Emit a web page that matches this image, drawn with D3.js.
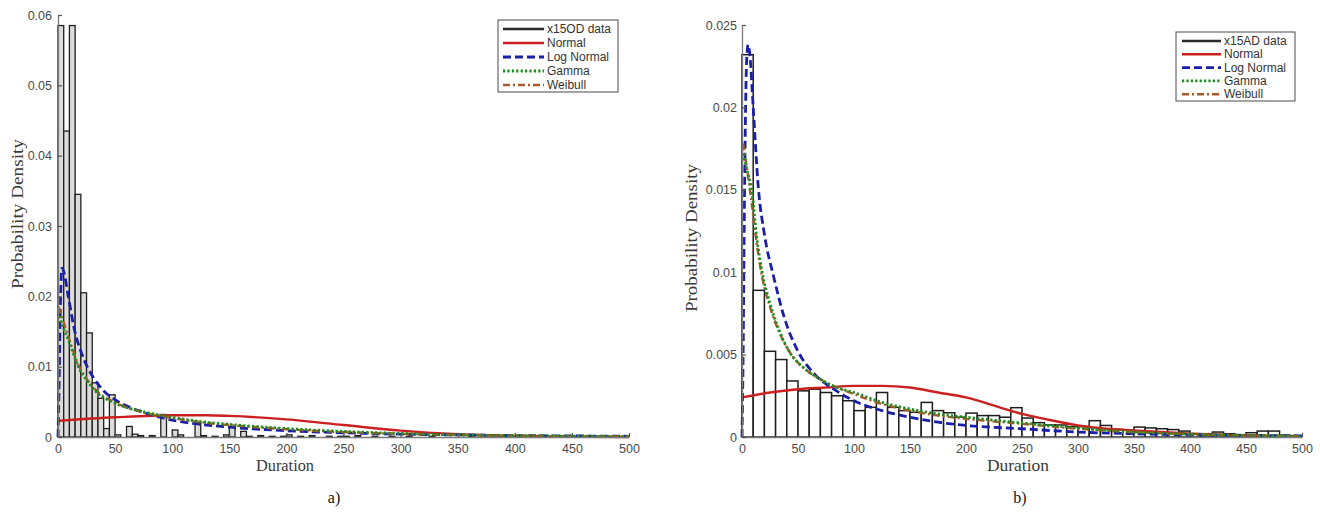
<!DOCTYPE html>
<html>
<head>
<meta charset="utf-8">
<script src="https://cdn.jsdelivr.net/npm/d3@7"></script>
<style>
  html, body { margin: 0; padding: 0; background: #fff; }
  svg { display: block; }
</style>
</head>
<body>
<svg id="chart" width="1320" height="516"></svg>
<script>
// ---- Panel a) x15OD : histogram heights, bins of 5 from 0 to 500 ----
const binWidthA = 5;
const histA = [
  .0585, .0435, .0585, .0345, .0205, .0148, .0077, .0055, .0012, .0060,
  .0003, 0, .0015, .0004, .0002, 0, .0002, 0, .0032, 0,
  .0010, .0003, 0, 0, .0020, .0002, 0, .0001, 0, .0003,
  .0015, 0, .0008, .0001, 0, .0002, 0, .0001, 0, .0001,
  .0003, 0, .0001, 0, .0002, 0, 0, .0001, 0, .0001,
  .0001, 0, .0002, 0, 0, .0001, 0, 0, .0001, 0,
  0, .0001, 0, 0, 0, .0001, 0, 0, 0, 0,
  0, 0, .0001, 0, 0, 0, 0, 0, 0, 0,
  0, 0, 0, 0, 0, 0, 0, 0, 0, 0,
  .0001, 0, 0, 0, 0, 0, 0, 0, 0, 0
];
// fitted densities, [duration, density]
const normalA = [[0,.0023],[50,.0028],[100,.0031],[130,.0031],[150,.0030],[200,.0025],[250,.0017],[300,.0009],[350,.0004],[400,.00015],[450,.00005],[500,.00001]];
const logNormalA = [[0,0],[1,.008],[2,.018],[3.5,.024],[5,.0235],[9,.020],[15,.0148],[20,.0122],[25,.0102],[32,.0082],[41,.0064],[50,.0053],[75,.0035],[100,.0024],[125,.0018],[150,.0014],[200,.0009],[250,.0006],[300,.0004],[350,.0003],[400,.0002],[450,.00015],[500,.0001]];
const gammaA = [[0.5,.0178],[2,.0168],[5,.0154],[10,.0134],[18,.0099],[25,.0081],[33,.0065],[50,.0048],[75,.0036],[100,.0028],[125,.0022],[150,.0018],[200,.0012],[250,.0008],[300,.0005],[350,.0003],[400,.0002],[450,.00012],[500,.00008]];
const weibullA = [[0.5,.0185],[2,.0178],[5,.0163],[10,.0138],[18,.0102],[25,.0083],[33,.0067],[50,.0049],[75,.0035],[100,.0027],[125,.0021],[150,.0017],[200,.0011],[250,.0007],[300,.00045],[350,.0003],[400,.00018],[450,.0001],[500,.00007]];

// ---- Panel b) x15AD : histogram heights, bins of 10 from 0 to 500 ----
const binWidthB = 10;
const histB = [
  .0232, .0089, .0052, .0047, .0034, .0028, .0029, .0027, .0025, .0022,
  .0016, .0018, .0027, .0018, .0016, .0015, .0021, .0016, .00147, .0012,
  .00145, .0013, .0013, .0012, .00178, .00115, .00087, .00073, .00073, .00063,
  .00063, .00099, .0007, .00046, .0004, .0006, .00055, .0005, .00045, .00036,
  .0002, .0002, .0003, .0002, .00014, .00026, .00036, .00036, .0001, 0
];
const normalB = [[0,.0024],[25,.0027],[50,.0029],[75,.0030],[100,.0031],[125,.0031],[150,.0030],[175,.0027],[200,.0024],[230,.0018],[250,.0014],[270,.0011],[300,.0007],[325,.0005],[350,.0004],[400,.0002],[450,.0001],[500,.00003]];
const logNormalB = [[0,0],[1,.005],[2,.013],[3,.019],[4,.0226],[5.5,.0238],[7,.0232],[10,.0200],[14.5,.0152],[20,.0123],[28,.0098],[38,.0072],[50,.0052],[65,.0038],[82,.0029],[100,.0022],[125,.0016],[150,.0012],[175,.0009],[200,.0007],[250,.0005],[300,.0003],[350,.0002],[400,.00013],[450,.0001],[500,.00007]];
const gammaB = [[1,.0172],[4,.0163],[9,.0148],[13,.0122],[18,.0100],[25,.0081],[33,.0065],[43,.0051],[55,.0042],[70,.0035],[85,.0030],[100,.0027],[125,.0021],[150,.0017],[175,.0014],[200,.0012],[250,.00085],[300,.00055],[350,.0003],[400,.00018],[450,.0001],[500,.00005]];
const weibullB = [[1,.0178],[4,.0165],[9,.0140],[13,.0118],[18,.0097],[25,.0079],[33,.0064],[43,.0051],[55,.0042],[70,.0035],[85,.0030],[100,.0026],[125,.0020],[150,.0016],[175,.0013],[200,.0011],[250,.0008],[300,.0005],[350,.0003],[400,.00017],[450,.0001],[500,.00005]];

const xTicks = [0, 50, 100, 150, 200, 250, 300, 350, 400, 450, 500];
const yTicksA = [0, 0.01, 0.02, 0.03, 0.04, 0.05, 0.06];
const yTicksB = [0, 0.005, 0.01, 0.015, 0.02, 0.025];
const legendNames = ["Normal", "Log Normal", "Gamma", "Weibull"];

const styles = {
  data:      { color: "#2b2b2b", width: 2.2, dash: null },
  Normal:    { color: "#cc2020", width: 2.4, dash: null },
  "Log Normal": { color: "#1a1fa8", width: 2.8, dash: "8,4" },
  Gamma:     { color: "#1b8f1b", width: 2.8, dash: "2.2,2.2" },
  Weibull:   { color: "#a85a2a", width: 2.4, dash: "7,3,2,3" }
};

const svg = d3.select("#chart");
svg.append("rect").attr("width", 1320).attr("height", 516).attr("fill", "#fff");

const fmt = d => d === 0 ? "0" : String(+d.toFixed(3));

function panel(cfg) {
  const x = d3.scaleLinear().domain([0, 500]).range(cfg.xRange);
  const y = d3.scaleLinear().domain([0, cfg.yMax]).range(cfg.yRange);
  const g = svg.append("g");

  // histogram bars
  g.append("g").selectAll("rect")
    .data(cfg.hist)
    .join("rect")
    .attr("x", (d, i) => x(i * cfg.binWidth))
    .attr("width", (d, i) => x((i + 1) * cfg.binWidth) - x(i * cfg.binWidth))
    .attr("y", d => y(d))
    .attr("height", d => y(0) - y(d))
    .attr("fill", cfg.barFill)
    .attr("stroke", "#1e1e1e")
    .attr("stroke-width", cfg.barStroke);

  const line = d3.line()
    .x(d => x(d[0]))
    .y(d => y(d[1]))
    .curve(d3.curveMonotoneX);

  const order = [["Normal", cfg.normal], ["Log Normal", cfg.logNormal], ["Weibull", cfg.weibull], ["Gamma", cfg.gamma]];
  order.forEach(([name, pts]) => {
    const s = styles[name];
    g.append("path")
      .datum(pts)
      .attr("d", line)
      .attr("fill", "none")
      .attr("stroke", s.color)
      .attr("stroke-width", s.width)
      .attr("stroke-dasharray", s.dash)
      .attr("stroke-linecap", "butt");
  });

  // axes (ticks point inward)
  const ax = g.append("g")
    .attr("transform", `translate(0,${cfg.yRange[0]})`)
    .call(d3.axisBottom(x).tickValues(xTicks).tickSizeInner(-4).tickSizeOuter(0).tickPadding(7));
  const ay = g.append("g")
    .attr("transform", `translate(${cfg.xRange[0]},0)`)
    .call(d3.axisLeft(y).tickValues(cfg.yTicks).tickFormat(fmt).tickSizeInner(-4).tickSizeOuter(0).tickPadding(cfg.yPad));
  [ax, ay].forEach(a => {
    a.select(".domain").attr("stroke", "#7a7a7a").attr("stroke-width", 1.3);
    a.selectAll(".tick line").attr("stroke", "#555").attr("stroke-width", 1.2);
    a.selectAll(".tick text")
      .attr("fill", "#4a4a4a")
      .style("font-family", "'Liberation Sans', Arial, sans-serif")
      .style("font-size", "12.5px");
  });

  // axis titles
  g.append("text")
    .attr("transform", `translate(${cfg.yTitle[0]},${cfg.yTitle[1]}) rotate(-90)`)
    .attr("text-anchor", "middle")
    .attr("dominant-baseline", "central")
    .attr("textLength", cfg.yTitleLen)
    .attr("lengthAdjust", "spacingAndGlyphs")
    .attr("fill", "#3a3a3a")
    .style("font-family", "'Liberation Serif', 'Times New Roman', serif")
    .style("font-size", "17px")
    .text("Probability Density");
  g.append("text")
    .attr("x", cfg.xTitle[0]).attr("y", cfg.xTitle[1])
    .attr("text-anchor", "middle")
    .attr("textLength", cfg.xTitleLen)
    .attr("lengthAdjust", "spacingAndGlyphs")
    .attr("fill", "#3a3a3a")
    .style("font-family", "'Liberation Serif', 'Times New Roman', serif")
    .style("font-size", "17px")
    .text("Duration");

  // panel caption
  g.append("text")
    .attr("x", cfg.caption[0]).attr("y", cfg.caption[1])
    .attr("text-anchor", "middle")
    .attr("fill", "#111")
    .style("font-family", "'Liberation Serif', 'Times New Roman', serif")
    .style("font-size", "16px")
    .text(cfg.captionText);

  // legend
  const L = cfg.legend;
  const lg = g.append("g");
  lg.append("rect")
    .attr("x", L.x).attr("y", L.y).attr("width", L.w).attr("height", L.h)
    .attr("fill", "#fff").attr("stroke", "#4a4a4a").attr("stroke-width", 1);
  const entries = [[cfg.dataName, "data"]].concat(legendNames.map(n => [n, n]));
  entries.forEach(([label, key], i) => {
    const s = styles[key];
    const yy = L.row0 + i * L.step;
    lg.append("line")
      .attr("x1", L.x + L.lineX0).attr("x2", L.x + L.lineX1)
      .attr("y1", yy).attr("y2", yy)
      .attr("stroke", s.color).attr("stroke-width", key === "data" ? 2.4 : s.width)
      .attr("stroke-dasharray", s.dash);
    lg.append("text")
      .attr("x", L.x + L.textX).attr("y", yy)
      .attr("dominant-baseline", "central")
      .attr("fill", "#333")
      .style("font-family", "'Liberation Sans', Arial, sans-serif")
      .style("font-size", "12px")
      .text(label);
  });
}

panel({
  xRange: [58, 629], yRange: [437, 15], yMax: 0.06, yTicks: yTicksA, yPad: 6,
  hist: histA, binWidth: binWidthA, barFill: "#dcdcdc", barStroke: 1.3,
  normal: normalA, logNormal: logNormalA, gamma: gammaA, weibull: weibullA,
  yTitle: [17, 214], yTitleLen: 150,
  xTitle: [285, 471], xTitleLen: 58,
  caption: [334, 503], captionText: "a)",
  dataName: "x15OD data",
  legend: { x: 498, y: 20, w: 120, h: 72, row0: 29, step: 14, lineX0: 5, lineX1: 46, textX: 49 }
});

panel({
  xRange: [742, 1302], yRange: [437, 25], yMax: 0.025, yTicks: yTicksB, yPad: 5,
  hist: histB, binWidth: binWidthB, barFill: "#fff", barStroke: 1.5,
  normal: normalB, logNormal: logNormalB, gamma: gammaB, weibull: weibullB,
  yTitle: [691, 238], yTitleLen: 148,
  xTitle: [1018, 471], xTitleLen: 62,
  caption: [1020, 503], captionText: "b)",
  dataName: "x15AD data",
  legend: { x: 1176, y: 32, w: 119, h: 69, row0: 41, step: 13.3, lineX0: 6, lineX1: 45, textX: 48 }
});
</script>
</body>
</html>
